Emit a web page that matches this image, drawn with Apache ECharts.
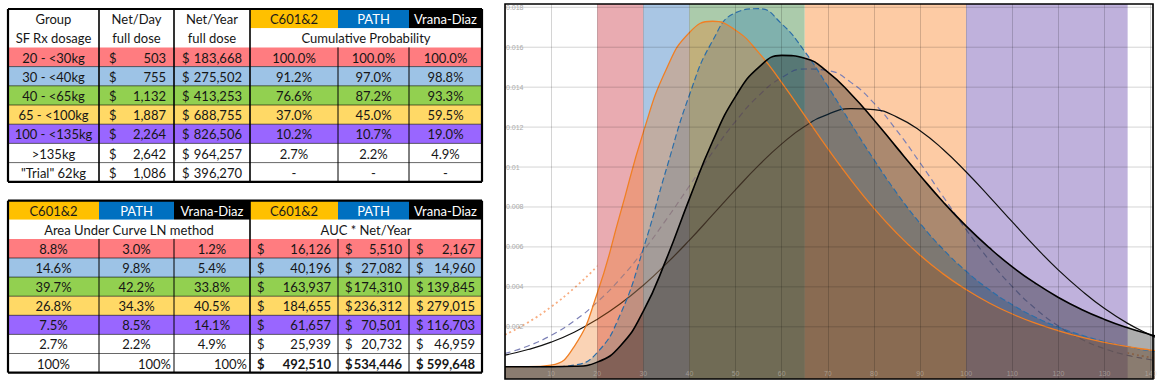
<!DOCTYPE html>
<html><head><meta charset="utf-8">
<script src="https://cdn.jsdelivr.net/npm/echarts@6/dist/echarts.min.js"></script>
<style>html,body{margin:0;padding:0;background:#fff}#c{width:1160px;height:390px}</style>
</head><body><div id="c"></div>
<script>
// ---------------- data: tables ----------------
const studies = ['C601&2', 'PATH', 'Vrana-Diaz'];
const groups = ['20 - <30kg', '30 - <40kg', '40 - <65kg', '65 - <100kg', '100 - <135kg', '>135kg', '"Trial" 62kg'];
const netDay = [503, 755, 1132, 1887, 2264, 2642, 1086];
const netYear = [183668, 275502, 413253, 688755, 826506, 964257, 396270];
const cumC601 = [100.0, 91.2, 76.6, 37.0, 10.2, 2.7, null];
const cumPATH = [100.0, 97.0, 87.2, 45.0, 10.7, 2.2, null];
const cumVrana = [100.0, 98.8, 93.3, 59.5, 19.0, 4.9, null];
const aucC601 = [8.8, 14.6, 39.7, 26.8, 7.5, 2.7];
const aucPATH = [3.0, 9.8, 42.2, 34.3, 8.5, 2.2];
const aucVrana = [1.2, 5.4, 33.8, 40.5, 14.1, 4.9];
const aucTotals = [100, 100, 100];
const dolC601 = [16126, 40196, 163937, 184655, 61657, 25939];
const dolPATH = [5510, 27082, 174310, 236312, 70501, 20732];
const dolVrana = [2167, 14960, 139845, 279015, 116703, 46959];
const dolTotals = [492510, 534446, 599648];

// ---------------- data: chart ----------------
const xs = [0,5,10,15,20,25,30,35,40,45,50,55,60,65,70,75,80,85,90,95,100,105,110,115,120,125,130,135,140,141];
const lnC601 = [0,0,0.00008,0.00101,0.00368,0.00768,0.01175,0.01491,0.01674,0.01730,0.01685,0.01573,0.01423,0.01258,0.01092,0.00936,0.00793,0.00667,0.00558,0.00465,0.00386,0.00319,0.00264,0.00218,0.00180,0.00148,0.00122,0.00101,0.00083,0.00080];
const lnPATH = [0,0,0,0.00008,0.00071,0.00262,0.00592,0.00991,0.01362,0.01632,0.01773,0.01793,0.01717,0.01578,0.01404,0.01218,0.01037,0.00868,0.00718,0.00588,0.00478,0.00386,0.00310,0.00248,0.00198,0.00158,0.00126,0.00100,0.00079,0.00076];
const lnVrana = [0,0,0,0.00002,0.00023,0.00104,0.00278,0.00540,0.00842,0.01128,0.01354,0.01499,0.01559,0.01545,0.01475,0.01366,0.01236,0.01096,0.00958,0.00825,0.00704,0.00596,0.00500,0.00418,0.00347,0.00287,0.00237,0.00195,0.00160,0.00154];
const nC601 = [0.00160,0.00222,0.00300,0.00394,0.00503,0.00625,0.00756,0.00889,0.01017,0.01132,0.01226,0.01291,0.01323,0.01318,0.01278,0.01206,0.01106,0.00987,0.00857,0.00724,0.00595,0.00475,0.00370,0.00280,0.00206,0.00147,0.00103,0.00069,0.00046,0.00042];
const nPATH = [0.00066,0.00104,0.00157,0.00229,0.00324,0.00441,0.00581,0.00738,0.00906,0.01074,0.01229,0.01357,0.01448,0.01491,0.01483,0.01424,0.01320,0.01181,0.01021,0.00852,0.00686,0.00534,0.00401,0.00291,0.00204,0.00138,0.00090,0.00057,0.00035,0.00031];
const nVrana = [0.00058,0.00086,0.00123,0.00173,0.00237,0.00315,0.00408,0.00516,0.00634,0.00760,0.00887,0.01008,0.01116,0.01204,0.01264,0.01293,0.01288,0.01250,0.01182,0.01088,0.00975,0.00852,0.00725,0.00600,0.00484,0.00381,0.00291,0.00217,0.00158,0.00148];
const yTicks = [0.002, 0.004, 0.006, 0.008, 0.01, 0.012, 0.014, 0.016, 0.018];
const bandFrom = [20, 30, 40, 65, 100];
const bandTo = [30, 40, 65, 100, 135];

// ---------------- styles / layout ----------------
const bandColors = ['#e9abb1', '#a9c6e4', '#abcbab', '#fdcba4', '#bfb1dc'];
const rowFill = ['#ff7c80', '#9dc3e6', '#92d050', '#ffd966', '#9966ff', '#ffffff', '#ffffff'];
const studyFill = ['#ffc000', '#0070c0', '#000000'];
const studyText = ['#1a1a1a', '#ffffff', '#ffffff'];
const E = [0, 91, 166, 242, 330, 401, 474]; // column edges (px within table)
const FONT = '13px Lato, "Noto Sans", sans-serif';
const TXT = '#161616';
const X_MAX = 140.5;

const fmt = v => v.toLocaleString('en-US');
const pairs = v => xs.map((x, i) => [x, v[i]]);

// table 1 cells
const t1 = [];
['Group', 'Net/Day', 'Net/Year'].forEach((t, i) => t1.push({c0: E[i], c1: E[i + 1], r0: 0, r1: 1, fill: '#fff', text: t}));
studies.forEach((t, i) => t1.push({c0: E[3 + i], c1: E[4 + i], r0: 0, r1: 1, fill: studyFill[i], color: studyText[i], text: t}));
['SF Rx dosage', 'full dose', 'full dose'].forEach((t, i) => t1.push({c0: E[i], c1: E[i + 1], r0: 1, r1: 2, fill: '#fff', text: t}));
t1.push({c0: E[3], c1: E[6], r0: 1, r1: 2, fill: '#fff', text: 'Cumulative Probability'});
groups.forEach((g, r) => {
  const fill = rowFill[r];
  t1.push({c0: E[0], c1: E[1], r0: r + 2, r1: r + 3, fill, text: g});
  t1.push({c0: E[1], c1: E[2], r0: r + 2, r1: r + 3, fill, money: fmt(netDay[r]), padL: 10, padR: 8});
  t1.push({c0: E[2], c1: E[3], r0: r + 2, r1: r + 3, fill, money: fmt(netYear[r]), padL: 8, padR: 8});
  [cumC601, cumPATH, cumVrana].forEach((arr, k) => t1.push({c0: E[3 + k], c1: E[4 + k], r0: r + 2, r1: r + 3, fill,
    text: arr[r] == null ? '-' : arr[r].toFixed(1) + '%'}));
});

// table 2 cells
const t2 = [];
studies.concat(studies).forEach((t, i) => t2.push({c0: E[i], c1: E[i + 1], r0: 0, r1: 1, fill: studyFill[i % 3], color: studyText[i % 3], text: t}));
t2.push({c0: E[0], c1: E[3], r0: 1, r1: 2, fill: '#fff', text: 'Area Under Curve LN method'});
t2.push({c0: E[3], c1: E[6], r0: 1, r1: 2, fill: '#fff', text: 'AUC * Net/Year'});
aucC601.forEach((v, r) => {
  const fill = rowFill[r];
  [aucC601, aucPATH, aucVrana].forEach((arr, k) => t2.push({c0: E[k], c1: E[k + 1], r0: r + 2, r1: r + 3, fill, text: arr[r].toFixed(1) + '%'}));
  [dolC601, dolPATH, dolVrana].forEach((arr, k) => t2.push({c0: E[3 + k], c1: E[4 + k], r0: r + 2, r1: r + 3, fill, money: fmt(arr[r]), padL: 7, padR: 7}));
});
aucTotals.forEach((v, k) => t2.push({c0: E[k], c1: E[k + 1], r0: 8, r1: 9, fill: '#fff', text: v + '%', align: k === 0 ? 'center' : 'right'}));
dolTotals.forEach((v, k) => t2.push({c0: E[3 + k], c1: E[4 + k], r0: 8, r1: 9, fill: '#fff', money: fmt(v), bold: true, padL: 7, padR: 7}));

// table lines [x1,y1,x2,y2,width]
function tableLines(thickCols, thinCols) {
  const L = [];
  L.push([E[0], 0, E[6], 0, 2.2], [E[0], 9, E[6], 9, 2.2], [E[0], 0, E[0], 9, 2.2], [E[6], 0, E[6], 9, 2.2]);
  thickCols.forEach(c => L.push([E[c], 0, E[c], 9, 1.6]));
  thinCols.forEach(c => L.push([E[c], 2, E[c], 9, 1]));
  for (let r = 3; r <= 8; r++) L.push([E[0], r, E[6], r, 0.6]);
  return L;
}
const lines1 = tableLines([1, 2, 3], [4, 5]);
const lines2 = tableLines([3], [1, 2, 4, 5]);

function cellRenderer(cells) {
  return function (params, api) {
    const c = cells[params.dataIndex];
    const p0 = api.coord([c.c0, c.r0]), p1 = api.coord([c.c1, c.r1]);
    const x = p0[0], y = p0[1], w = p1[0] - p0[0], h = p1[1] - p0[1];
    const font = (c.bold ? 'bold ' : '') + FONT;
    const fill = c.color || TXT;
    const cy = y + h / 2 + 0.5;
    const ch = [{type: 'rect', shape: {x, y, width: w, height: h}, style: {fill: c.fill}}];
    if (c.money != null) {
      ch.push({type: 'text', style: {text: '$', x: x + c.padL, y: cy, align: 'left', verticalAlign: 'middle', font, fill}});
      ch.push({type: 'text', style: {text: c.money, x: x + w - c.padR, y: cy, align: 'right', verticalAlign: 'middle', font, fill}});
    } else if (c.align === 'right') {
      ch.push({type: 'text', style: {text: c.text, x: x + w - 3, y: cy, align: 'right', verticalAlign: 'middle', font, fill}});
    } else {
      ch.push({type: 'text', style: {text: c.text, x: x + w / 2, y: cy, align: 'center', verticalAlign: 'middle', font, fill}});
    }
    return {type: 'group', children: ch};
  };
}
function lineRenderer(L) {
  return function (params, api) {
    const l = L[params.dataIndex];
    const a = api.coord([l[0], l[1]]), b = api.coord([l[2], l[3]]);
    return {type: 'line', shape: {x1: a[0], y1: a[1], x2: b[0], y2: b[1]}, style: {stroke: '#000', lineWidth: l[4]}};
  };
}

const chart = echarts.init(document.getElementById('c'), null, {renderer: 'svg'});
const option = {
  animation: false,
  backgroundColor: '#fff',
  grid: [
    {left: 505, right: 7, top: 4, bottom: 11, show: true, z: 10, borderColor: '#000', borderWidth: 1.6, backgroundColor: 'rgba(0,0,0,0)'},
    {left: 8, top: 9, width: 474, height: 172.8},
    {left: 8, top: 200.7, width: 474, height: 171.9}
  ],
  xAxis: [
    {gridIndex: 0, type: 'value', min: 0, max: X_MAX, interval: 10, z: 3,
      axisLine: {show: false, onZero: false}, axisTick: {show: false},
      splitLine: {show: true, lineStyle: {color: 'rgba(0,0,0,0.17)', width: 1}},
      axisLabel: {inside: true, margin: 2, fontSize: 7, color: 'rgba(200,195,190,0.55)',
        formatter: v => (v > 0 && v % 10 === 0) ? String(v) : ''}},
    {gridIndex: 1, type: 'value', min: 0, max: 474, show: false},
    {gridIndex: 2, type: 'value', min: 0, max: 474, show: false}
  ],
  yAxis: [
    {gridIndex: 0, type: 'value', min: -0.000615, max: 0.018165, z: 3,
      axisLine: {show: false}, axisTick: {show: false}, splitLine: {show: false},
      axisLabel: {inside: true, margin: 1, fontSize: 7, color: '#aaa', customValues: yTicks, formatter: v => String(v)}},
    {gridIndex: 1, type: 'value', min: 0, max: 9, inverse: true, show: false},
    {gridIndex: 2, type: 'value', min: 0, max: 9, inverse: true, show: false}
  ],
  series: [
    {type: 'line', name: 'bands', data: [], z: -5, silent: true,
      markArea: {silent: true, z: -5, data: bandFrom.map((f, i) => [{xAxis: f, itemStyle: {color: bandColors[i]}}, {xAxis: bandTo[i]}])}},
    {type: 'line', name: 'C601&2 normal', data: pairs(nC601), z: -6, smooth: true, symbol: 'none', silent: true,
      lineStyle: {color: '#f8ad80', width: 1.8, type: [2, 3]}},
    {type: 'custom', name: 'hgrid', xAxisIndex: 0, yAxisIndex: 0, z: 3, silent: true,
      data: yTicks.map(v => [0, v]),
      renderItem: (p, api) => {
        const v = api.value(1);
        const a = api.coord([0, v]), b = api.coord([X_MAX, v]);
        return {type: 'line', shape: {x1: a[0], y1: a[1], x2: b[0], y2: b[1]}, style: {stroke: 'rgba(0,0,0,0.17)', lineWidth: 1}};
      }},
    {type: 'line', name: 'PATH normal', data: pairs(nPATH), z: 1, smooth: true, symbol: 'none', silent: true,
      lineStyle: {color: '#7c80b6', width: 1.2, type: [6, 4]}},
    {type: 'line', name: 'Vrana-Diaz normal', data: pairs(nVrana), z: 1, smooth: true, symbol: 'none', silent: true,
      lineStyle: {color: '#111', width: 1.2}},
    {type: 'line', name: 'PATH LN', data: pairs(lnPATH), z: 2, smooth: true, symbol: 'none', silent: true,
      lineStyle: {color: '#2c6ea8', width: 1.2, type: [6, 3]}, areaStyle: {color: 'rgba(31,119,180,0.43)', origin: 'start'}},
    {type: 'line', name: 'C601&2 LN', data: pairs(lnC601), z: 2, smooth: true, symbol: 'none', silent: true,
      lineStyle: {color: '#f07f24', width: 1.3}, areaStyle: {color: 'rgba(240,120,30,0.47)', origin: 'start'}},
    {type: 'line', name: 'Vrana-Diaz LN', data: pairs(lnVrana), z: 2, smooth: true, symbol: 'none', silent: true,
      lineStyle: {color: '#000', width: 1.6}, areaStyle: {color: 'rgba(0,0,0,0.46)', origin: 'start'}},
    {type: 'custom', name: 'table1', xAxisIndex: 1, yAxisIndex: 1, silent: true, z: 5,
      data: t1.map(c => [c.c0, c.r0]), renderItem: cellRenderer(t1)},
    {type: 'custom', name: 'table1 lines', xAxisIndex: 1, yAxisIndex: 1, silent: true, z: 6,
      data: lines1.map(l => [l[0], l[1]]), renderItem: lineRenderer(lines1)},
    {type: 'custom', name: 'table2', xAxisIndex: 2, yAxisIndex: 2, silent: true, z: 5,
      data: t2.map(c => [c.c0, c.r0]), renderItem: cellRenderer(t2)},
    {type: 'custom', name: 'table2 lines', xAxisIndex: 2, yAxisIndex: 2, silent: true, z: 6,
      data: lines2.map(l => [l[0], l[1]]), renderItem: lineRenderer(lines2)}
  ]
};
chart.setOption(option);
</script></body></html>
